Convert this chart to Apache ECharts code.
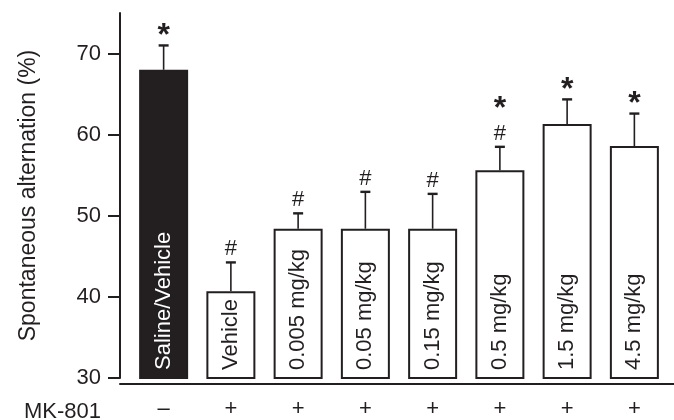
<!DOCTYPE html>
<html>
<head>
<meta charset="utf-8">
<script src="https://cdn.jsdelivr.net/npm/echarts@6/dist/echarts.min.js"></script>
<style>
  html, body { margin: 0; padding: 0; background: #fff; }
  #chart { width: 674px; height: 420px; }
</style>
</head>
<body>
<div id="chart"></div>
<script>
// Treatment groups (bar labels) and MK-801 pretreatment row
const categories = ['Saline/Vehicle', 'Vehicle', '0.005 mg/kg', '0.05 mg/kg', '0.15 mg/kg', '0.5 mg/kg', '1.5 mg/kg', '4.5 mg/kg'];
const mk801 = ['–', '+', '+', '+', '+', '+', '+', '+'];

// Spontaneous alternation (%), mean and SEM per group
const means = [68.0, 40.7, 48.4, 48.4, 48.4, 55.6, 61.3, 58.6];
const sem = [3.0, 3.55, 1.9, 4.55, 4.3, 2.9, 3.05, 4.0];

// Significance markers
const starMarks = [true, false, false, false, false, true, true, true];
const hashMarks = [false, true, true, true, true, true, false, false];

// Y axis
const yTicks = [30, 40, 50, 60, 70];
const yRange = [30, 75];

const INK = '#231f20';
const FONT = '"Liberation Sans", Arial, Helvetica, sans-serif';

const chart = echarts.init(document.getElementById('chart'), null, { renderer: 'canvas' });

const barData = means.map((v, i) => ({
  value: v,
  itemStyle: { color: i === 0 ? INK : '#ffffff' },
  label: { color: i === 0 ? '#ffffff' : INK }
}));

const errData = means.map((v, i) => [i, v, sem[i]]);

// Upper SEM whisker with cap, plus significance symbols above it
function renderErr(params, api) {
  const idx = params.dataIndex;
  const mean = api.value(1);
  const top = api.coord([api.value(0), mean + api.value(2)]);
  const base = api.coord([api.value(0), mean]);
  const x = top[0];
  const cap = top[1];
  const children = [
    { type: 'line', shape: { x1: x, y1: base[1], x2: x, y2: cap }, style: { stroke: INK, lineWidth: 1.6 } },
    { type: 'line', shape: { x1: x - 5, y1: cap, x2: x + 5, y2: cap }, style: { stroke: INK, lineWidth: 2.4 } }
  ];
  if (hashMarks[idx]) {
    children.push({ type: 'text', style: { text: '#', x: x, y: cap - 2, textAlign: 'center', textVerticalAlign: 'bottom', font: '22px ' + FONT, fill: INK } });
  }
  if (starMarks[idx]) {
    const sy = hashMarks[idx] ? cap - 22 : cap + 7;
    children.push({ type: 'text', style: { text: '*', x: x, y: sy, textAlign: 'center', textVerticalAlign: 'bottom', font: 'bold 32px ' + FONT, fill: INK } });
  }
  return { type: 'group', children: children };
}

chart.setOption({
  animation: false,
  backgroundColor: '#ffffff',
  textStyle: { fontFamily: FONT },
  graphic: [{
    type: 'text', right: 573, top: 401,
    style: { text: 'MK-801', font: '22px ' + FONT, fill: INK }
  }],
  grid: [
    { left: 130, right: 6, top: 13, bottom: 36 },
    { left: 120, right: 0, top: 13, bottom: 36 }
  ],
  xAxis: [
    {
      type: 'category', gridIndex: 0, data: categories,
      axisLine: { show: false }, axisTick: { show: false },
      axisLabel: { formatter: (v, i) => mk801[i], fontSize: 22, color: INK, margin: 20, interval: 0 }
    },
    {
      type: 'value', gridIndex: 1, min: 0, max: 1,
      axisLine: { show: true, lineStyle: { color: INK, width: 2 } },
      axisTick: { show: false }, axisLabel: { show: false }, splitLine: { show: false }
    }
  ],
  yAxis: [
    {
      type: 'value', gridIndex: 0, min: yRange[0], max: yRange[1], interval: 10, offset: 10,
      name: 'Spontaneous alternation (%)', nameLocation: 'middle', nameGap: 80,
      nameTextStyle: { fontSize: 23, color: INK },
      axisLine: { show: true, lineStyle: { color: INK, width: 2 } },
      axisTick: { show: true, length: 12, lineStyle: { color: INK, width: 2 }, customValues: yTicks },
      axisLabel: { fontSize: 22, color: INK, margin: 19, customValues: yTicks },
      splitLine: { show: false }
    },
    { type: 'value', gridIndex: 1, show: false, min: 0, max: 1 }
  ],
  series: [
    {
      type: 'bar', xAxisIndex: 0, yAxisIndex: 0, data: barData,
      barWidth: 49,
      itemStyle: { borderColor: INK, borderWidth: 2 },
      label: {
        show: true, formatter: (p) => categories[p.dataIndex],
        position: 'insideBottom', rotate: 90, align: 'left', verticalAlign: 'middle',
        distance: 9, fontSize: 22
      }
    },
    {
      type: 'custom', xAxisIndex: 0, yAxisIndex: 0, data: errData,
      encode: { x: 0, y: 1 }, renderItem: renderErr, z: 5, clip: false
    }
  ]
});
</script>
</body>
</html>
